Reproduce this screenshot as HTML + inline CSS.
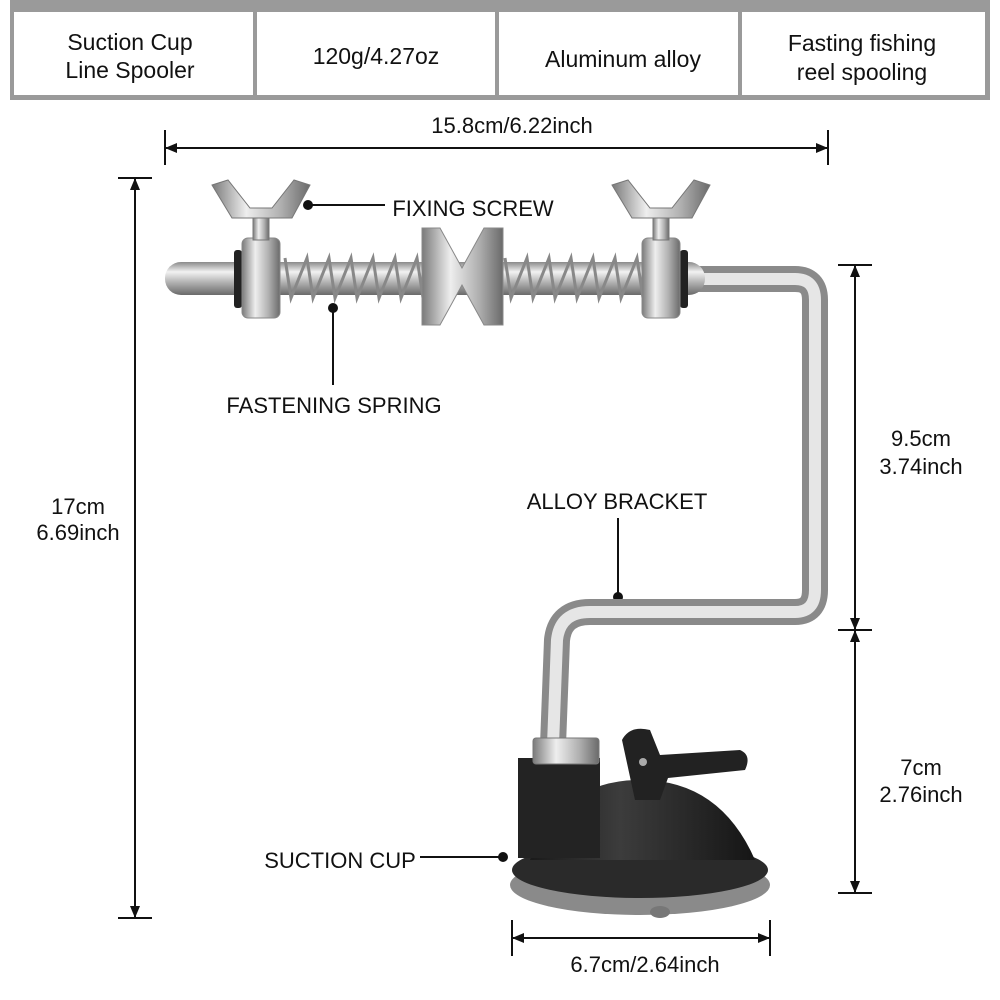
<!DOCTYPE html>
<html><head><meta charset="utf-8"><style>
body{margin:0;background:#fff;}
svg{display:block;font-family:"Liberation Sans",sans-serif;}
</style></head><body>
<svg width="1000" height="1000" viewBox="0 0 1000 1000" xmlns="http://www.w3.org/2000/svg">
<defs>
<linearGradient id="rodV" x1="0" y1="0" x2="0" y2="1">
<stop offset="0" stop-color="#8a8a8a"/><stop offset="0.3" stop-color="#f2f2f2"/><stop offset="0.6" stop-color="#b5b5b5"/><stop offset="1" stop-color="#6a6a6a"/></linearGradient>
<linearGradient id="rodH" x1="0" y1="0" x2="1" y2="0">
<stop offset="0" stop-color="#7a7a7a"/><stop offset="0.35" stop-color="#eeeeee"/><stop offset="0.7" stop-color="#b0b0b0"/><stop offset="1" stop-color="#6a6a6a"/></linearGradient>
<linearGradient id="cupG" x1="0" y1="0" x2="1" y2="0">
<stop offset="0" stop-color="#1a1a1a"/><stop offset="0.4" stop-color="#3c3c3c"/><stop offset="1" stop-color="#151515"/></linearGradient>
</defs>
<!-- table -->
<rect x="10" y="0" width="980" height="100" fill="#9a9a9a"/>
<rect x="14" y="12" width="239" height="83" fill="#fff"/>
<rect x="257" y="12" width="238" height="83" fill="#fff"/>
<rect x="499" y="12" width="239" height="83" fill="#fff"/>
<rect x="742" y="12" width="243" height="83" fill="#fff"/>
<g font-size="23" fill="#111" text-anchor="middle">
<text x="130" y="50">Suction Cup</text><text x="130" y="78">Line Spooler</text>
<text x="376" y="64">120g/4.27oz</text>
<text x="623" y="67">Aluminum alloy</text>
<text x="862" y="51">Fasting fishing</text><text x="862" y="80">reel spooling</text>
</g>
<!-- dimension lines -->
<g stroke="#111" stroke-width="2" fill="none">
<line x1="165" y1="148" x2="828" y2="148"/><line x1="165" y1="130" x2="165" y2="165"/><line x1="828" y1="130" x2="828" y2="165"/>
<line x1="135" y1="178" x2="135" y2="918"/><line x1="118" y1="178" x2="152" y2="178"/><line x1="118" y1="918" x2="152" y2="918"/>
<line x1="855" y1="265" x2="855" y2="893"/><line x1="838" y1="265" x2="872" y2="265"/><line x1="838" y1="630" x2="872" y2="630"/><line x1="838" y1="893" x2="872" y2="893"/>
<line x1="512" y1="938" x2="770" y2="938"/><line x1="512" y1="920" x2="512" y2="956"/><line x1="770" y1="920" x2="770" y2="956"/>
<line x1="308" y1="205" x2="385" y2="205"/><line x1="333" y1="308" x2="333" y2="385"/><line x1="618" y1="518" x2="618" y2="597"/><line x1="420" y1="857" x2="503" y2="857"/>
</g>
<g fill="#111">
<path d="M165 148 l12 -5 v10z M828 148 l-12 -5 v10z M135 178 l-5 12 h10z M135 918 l-5 -12 h10z M855 265 l-5 12 h10z M855 630 l-5 -12 h10z M855 630 l-5 12 h10z M855 893 l-5 -12 h10z M512 938 l12 -5 v10z M770 938 l-12 -5 v10z"/>
<circle cx="308" cy="205" r="5"/><circle cx="333" cy="308" r="5"/><circle cx="618" cy="597" r="5"/><circle cx="503" cy="857" r="5"/>
</g>
<g font-size="22" fill="#111" text-anchor="middle">
<text x="512" y="133">15.8cm/6.22inch</text>
<text x="78" y="514">17cm</text><text x="78" y="540">6.69inch</text>
<text x="921" y="446">9.5cm</text><text x="921" y="474">3.74inch</text>
<text x="921" y="775">7cm</text><text x="921" y="802">2.76inch</text>
<text x="645" y="972">6.7cm/2.64inch</text>
<text x="473" y="216">FIXING SCREW</text>
<text x="334" y="413">FASTENING SPRING</text>
<text x="617" y="509">ALLOY BRACKET</text>
<text x="340" y="868">SUCTION CUP</text>
</g>
<!-- bracket -->
<path d="M690 279 H795 Q815 279 815 300 V590 Q815 612 795 612 H590 Q560 612 557 640 L553 745" stroke="#8a8a8a" stroke-width="26" fill="none" stroke-linejoin="round"/>
<path d="M690 279 H795 Q815 279 815 300 V590 Q815 612 795 612 H590 Q560 612 557 640 L553 745" stroke="#e6e6e6" stroke-width="12" fill="none"/>
<!-- rod -->
<rect x="165" y="262" width="540" height="33" rx="16" fill="url(#rodV)"/>
<!-- springs -->
<g stroke="#888" stroke-width="3" fill="none">
<path d="M285 258 l6 40 l16 -40 l6 40 l16 -40 l6 40 l16 -40 l6 40 l16 -40 l6 40 l16 -40 l6 40 l16 -40 l6 40 l10 -40"/>
<path d="M505 258 l6 40 l16 -40 l6 40 l16 -40 l6 40 l16 -40 l6 40 l16 -40 l6 40 l16 -40 l6 40 l16 -40 l6 40"/>
</g>
<!-- collars -->
<rect x="234" y="250" width="8" height="58" rx="3" fill="#222"/>
<rect x="680" y="250" width="8" height="58" rx="3" fill="#222"/>
<rect x="242" y="238" width="38" height="80" rx="6" fill="url(#rodH)" stroke="#888"/>
<rect x="642" y="238" width="38" height="80" rx="6" fill="url(#rodH)" stroke="#888"/>
<!-- wing nuts -->
<g fill="url(#rodH)" stroke="#777">
<rect x="253" y="210" width="16" height="30"/><rect x="653" y="210" width="16" height="30"/>
<path d="M212 185 L228 180 L250 208 L272 208 L294 180 L310 185 L292 218 L232 218 Z"/>
<path d="M612 185 L628 180 L650 208 L672 208 L694 180 L710 185 L692 218 L632 218 Z"/>
</g>
<!-- spool -->
<path d="M422 228 H440 L462 268 L484 228 H503 V325 H484 L462 285 L440 325 H422 Z" fill="url(#rodH)" stroke="#888"/>
<!-- suction cup -->
<ellipse cx="640" cy="885" rx="130" ry="30" fill="#8a8a8a"/>
<ellipse cx="640" cy="870" rx="128" ry="28" fill="#2a2a2a"/>
<path d="M530 860 Q560 780 640 780 Q720 780 755 860 Z" fill="url(#cupG)"/>
<rect x="518" y="758" width="82" height="100" fill="#232323"/>
<rect x="533" y="738" width="66" height="26" rx="3" fill="url(#rodH)" stroke="#777"/>
<path d="M622 740 Q630 725 650 730 L660 755 L740 750 Q752 755 745 770 L668 778 L660 800 L635 800 Z" fill="#222"/>
<circle cx="643" cy="762" r="4" fill="#aaa"/>
<ellipse cx="660" cy="912" rx="10" ry="6" fill="#777"/>
</svg>
</body></html>
